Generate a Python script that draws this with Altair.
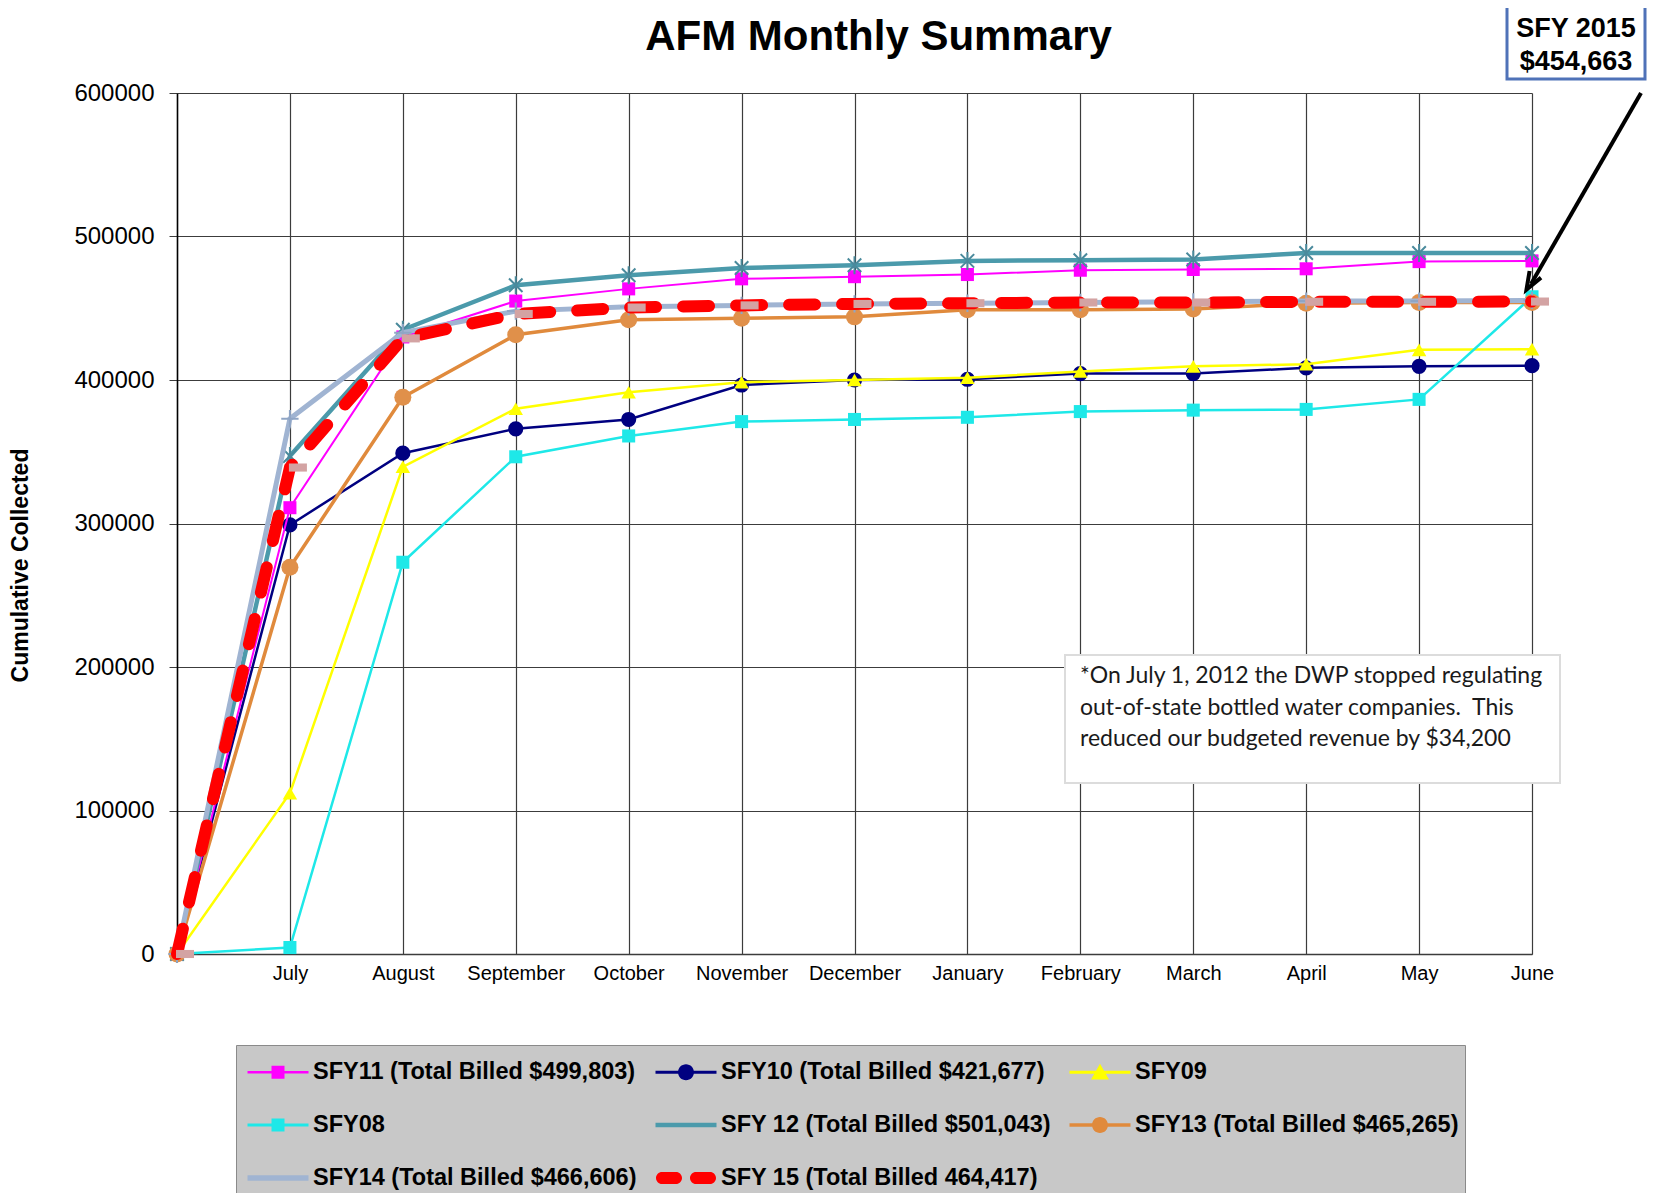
import json
import altair as alt
import pandas as pd

# ---------------- data ----------------
months = ["", "July", "August", "September", "October", "November", "December",
          "January", "February", "March", "April", "May", "June"]

series_names = [
    "SFY11 (Total Billed $499,803)",
    "SFY10 (Total Billed $421,677)",
    "SFY09",
    "SFY08",
    "SFY 12 (Total Billed $501,043)",
    "SFY13 (Total Billed $465,265)",
    "SFY14 (Total Billed $466,606)",
    "SFY 15 (Total Billed 464,417)",
]

sfy11 = [0, 311000, 430000, 455000, 463500, 470500, 472000, 473500, 476500, 477000, 477500, 482500, 483000]
sfy10 = [0, 299000, 349000, 366000, 372500, 396500, 400000, 400500, 404500, 404500, 408500, 409500, 410000]
sfy09 = [0, 112000, 339500, 380000, 391500, 398500, 400000, 401500, 406000, 409500, 411000, 421000, 421500]
sfy08 = [0, 4500, 273000, 346500, 361000, 371000, 372500, 374000, 378000, 379000, 379500, 386500, 458000]
sfy12 = [0, 347000, 435000, 466000, 473000, 478000, 480000, 483000, 483500, 484000, 488500, 488500, 488500]
sfy13 = [0, 269500, 388000, 431500, 442000, 443000, 444000, 449000, 449000, 449500, 453500, 454000, 454000]
sfy14 = [0, 373000, 433000, 448000, 451000, 452000, 453000, 453500, 454000, 454500, 455000, 455000, 455500]
sfy15 = [0, 339000, 429000, 446000, 450500, 452000, 453000, 453500, 454000, 454000, 454500, 454500, 454663]

series_values = [sfy11, sfy10, sfy09, sfy08, sfy12, sfy13, sfy14, sfy15]

y_ticks = [0, 100000, 200000, 300000, 400000, 500000, 600000]
title_text = "AFM Monthly Summary"
y_title = "Cumulative  Collected"
note_lines = ["*On July 1, 2012 the DWP stopped regulating",
              "out-of-state bottled water companies.\u00a0 This",
              "reduced our budgeted revenue by $34,200"]
callout_lines = ["SFY 2015", "$454,663"]

rows = []
for name, vals in zip(series_names, series_values):
    for i, v in enumerate(vals):
        rows.append({"series": name, "idx": i, "month": months[i], "value": v})
df = pd.DataFrame(rows)

# ---------------- styles ----------------
W, H = 1355, 861
FONT = "Liberation Sans"
GRID = "#3c3c3c"

STAR = "M-0.75,-0.75L0.75,0.75M-0.75,0.75L0.75,-0.75M0,-1V1"
PLUS = "M-1,0H1M0,-1V1"
ROSY = "M-1,-0.45H1V0.45H-1Z"

styles = {
    series_names[0]: dict(line="#FF00FF", lw=2, shape="square", size=170, filled=True, mc="#FF00FF"),
    series_names[1]: dict(line="#000080", lw=2.5, shape="circle", size=230, filled=True, mc="#000080"),
    series_names[2]: dict(line="#FFFF00", lw=2.5, shape="triangle-up", size=210, filled=True, mc="#FFFF00"),
    series_names[3]: dict(line="#1EE8E8", lw=2.5, shape="square", size=170, filled=True, mc="#1EE8E8"),
    series_names[4]: dict(line="#4B9AAB", lw=4.5, shape=STAR, size=324, filled=False, mc="#4A8A9C", msw=2),
    series_names[5]: dict(line="#E08A3C", lw=3.5, shape="circle", size=290, filled=True, mc="#E0904A"),
    series_names[6]: dict(line="#A0B4D2", lw=5, shape=PLUS, size=300, filled=False, mc="#8FA5C5", msw=2),
    series_names[7]: dict(line="#FF0000", lw=12, dash=[26, 27], shape=ROSY, size=324, filled=True,
                          mc="#D3A3A3", xoff=8),
}

draw_order = [series_names[i] for i in [1, 2, 3, 0, 4, 5, 6, 7]]

# legend symbol paths (unit = 20px, symbol about 61px wide)
def capsule(x0, x1, h):
    return (f"M{x0},{-h}H{x1}A{h},{h} 0 0,1 {x1},{h}H{x0}A{h},{h} 0 0,1 {x0},{-h}Z")

def bar(h, w=1.525):
    return f"M{-w},{-h}H{w}V{h}H{-w}Z"

SQ = "M-0.325,-0.325H0.325V0.325H-0.325Z"
CIRC = "M-0.4,0A0.4,0.4 0 1,1 0.4,0A0.4,0.4 0 1,1 -0.4,0Z"
TRI = "M0,-0.42L0.45,0.36H-0.45Z"
legend_paths = [
    bar(0.0625) + SQ,
    bar(0.07) + CIRC,
    bar(0.07) + TRI,
    bar(0.07) + SQ,
    bar(0.11),
    bar(0.09) + CIRC,
    bar(0.135),
    capsule(-1.2, -0.5, 0.3) + capsule(0.5, 1.2, 0.3),
]
legend_colors = ["#FF00FF", "#000080", "#FFFF00", "#1EE8E8", "#4B9AAB", "#E08A3C", "#A0B4D2", "#FF0000"]

# ---------------- encodings ----------------
X = alt.X("idx:Q", scale=alt.Scale(domain=[0, 12], nice=False, zero=False),
          axis=alt.Axis(values=list(range(13)), labelExpr=json.dumps(months) + "[datum.value]",
                        title=None, ticks=False, grid=True, gridColor=GRID, gridWidth=1.2,
                        domainColor=GRID, domainWidth=1.5, labelFontSize=20, labelPadding=9,
                        labelFlush=False, labelOverlap=False, labelColor="black", labelFont=FONT))
Y = alt.Y("value:Q", scale=alt.Scale(domain=[0, 600000], nice=False),
          axis=alt.Axis(values=y_ticks, format="d", title=y_title, grid=True, gridColor=GRID,
                        gridWidth=1.2, tickSize=8, tickColor=GRID, labelFontSize=24, labelPadding=15,
                        labelColor="black", labelFont=FONT, domainColor="black", domainWidth=1.5,
                        titleFont=FONT, titleFontSize=23, titleFontWeight="bold", titleColor="black",
                        titleX=-145, titleY=472, titleAngle=270, titleBaseline="bottom",
                        titleAlign="center"))

base = alt.Chart(df)
layers = []
for name in draw_order:
    st = styles[name]
    sub = base.transform_filter(alt.datum.series == name)
    lkw = dict(color=st["line"], strokeWidth=st["lw"])
    if "dash" in st:
        lkw.update(strokeDash=st["dash"], strokeCap="round")
    layers.append(sub.mark_line(**lkw).encode(x=X, y=Y))
    pkw = dict(shape=st["shape"], size=st["size"], filled=st["filled"], color=st["mc"], opacity=1)
    if "msw" in st:
        pkw["strokeWidth"] = st["msw"]
    if "xoff" in st:
        pkw["xOffset"] = st["xoff"]
    layers.append(sub.mark_point(**pkw).encode(x=X, y=Y))

legend = alt.Legend(title=None, orient="none", legendX=59, legendY=952, columns=3,
                    direction="horizontal",
                    fillColor="#c8c8c8", strokeColor="#8a8a8a", padding=6,
                    labelFont=FONT, labelFontSize=23.5, labelFontWeight="bold", labelColor="black",
                    labelLimit=700, symbolSize=1600, symbolOffset=15, columnPadding=13,
                    rowPadding=20, labelOffset=14)

legend_layer = alt.Chart(df).transform_filter("false").mark_point(
    filled=True, opacity=1, size=1600).encode(
    x=X, y=Y,
    color=alt.Color("series:N", scale=alt.Scale(domain=series_names, range=legend_colors), legend=legend),
    shape=alt.Shape("series:N", scale=alt.Scale(domain=series_names, range=legend_paths), legend=legend),
)

one = pd.DataFrame({"k": [0]})
title_mark = alt.Chart(pd.DataFrame({"t": [title_text]})).mark_text(
    font=FONT, fontSize=42, fontWeight="bold", align="center", baseline="alphabetic",
    color="black").encode(x=alt.value(W / 2 + 24), y=alt.value(-43), text="t:N")
note_box = alt.Chart(one).mark_rect(fill="white", stroke="#dcdcdc", strokeWidth=2).encode(
    x=alt.value(888), x2=alt.value(1383), y=alt.value(562), y2=alt.value(690))
note_text = alt.Chart(pd.DataFrame({"t": ["\n".join(note_lines)]})).mark_text(
    font="Lato", fontSize=23, align="left", baseline="alphabetic", lineBreak="\n",
    lineHeight=31.5, color="#1a1a1a").encode(x=alt.value(903), y=alt.value(590), text="t:N")

call_box = alt.Chart(one).mark_rect(fill="white", stroke="#4F72B8", strokeWidth=3).encode(
    x=alt.value(1330), x2=alt.value(1468), y=alt.value(-88), y2=alt.value(-14))
call_text = alt.Chart(pd.DataFrame({"t": ["\n".join(callout_lines)]})).mark_text(
    font=FONT, fontSize=27, fontWeight="bold", align="center", baseline="alphabetic",
    lineBreak="\n", lineHeight=33, color="black").encode(
    x=alt.value(1399), y=alt.value(-56), text="t:N")
arrow = alt.Chart(one).mark_rule(color="black", strokeWidth=4).encode(
    x=alt.value(1464), y=alt.value(0), x2=alt.value(1354), y2=alt.value(191))
arrow_head = alt.Chart(one).mark_point(
    shape="M-0.6,0.6L0,-1L0.6,0.6", filled=False, color="black", strokeWidth=4, size=484,
    angle=210, opacity=1).encode(x=alt.value(1355), y=alt.value(187))

chart = alt.layer(*layers, legend_layer, title_mark, note_box, note_text, call_box, call_text,
                  arrow, arrow_head).properties(
    width=W, height=H,
    autosize=alt.AutoSizeParams(type="none"),
    padding={"left": 169, "top": 85, "right": 115, "bottom": 239},
    background="white",
).configure_view(stroke=None)

chart.save("out.html", embed_options={"renderer": "svg", "actions": False})
